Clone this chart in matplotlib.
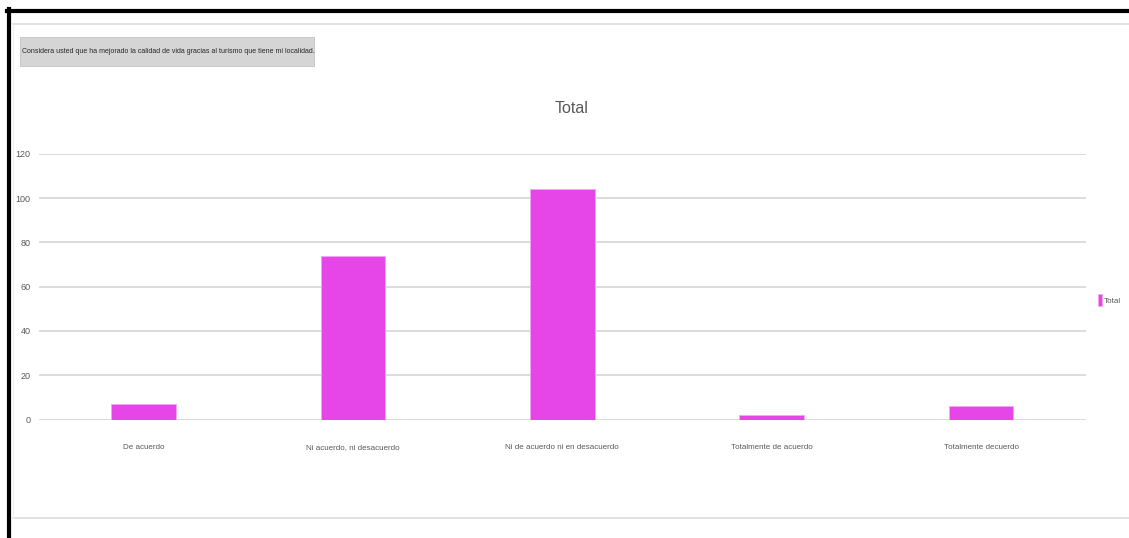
import matplotlib
matplotlib.use("Agg")
import matplotlib.pyplot as plt
from matplotlib.lines import Line2D
from matplotlib.patches import Rectangle

# data
categories = ["De acuerdo", "Ni acuerdo, ni desacuerdo", "Ni de acuerdo ni en desacuerdo",
              "Totalmente de acuerdo", "Totalmente decuerdo"]
totals = [7, 74, 104, 2, 6]
yticks = [0, 20, 40, 60, 80, 100, 120]

W, H = 1129, 538
bar_color = "#E645E8"
grid_color = "#d9d9d9"
txt_color = "#595959"

plt.rcParams["font.family"] = ["Liberation Sans", "DejaVu Sans"]

fig = plt.figure(figsize=(W / 100, H / 100), dpi=100)
fig.patch.set_facecolor("white")

def fx(px):
    return px / W

def fy(py):
    return 1 - py / H

# frame lines of the screenshot
fig.add_artist(Line2D([fx(9), fx(9)], [fy(9), fy(538)], color="black", lw=3.0))
fig.add_artist(Line2D([fx(7), fx(1129)], [fy(11), fy(11)], color="black", lw=3.0))
fig.add_artist(Line2D([fx(13), fx(1129)], [fy(23.5), fy(23.5)], color="#d9d9d9", lw=1.1))
fig.add_artist(Line2D([fx(13), fx(1129)], [fy(518), fy(518)], color="#d9d9d9", lw=1.1))
fig.add_artist(Line2D([fx(13), fx(13)], [fy(23.5), fy(518)], color="#eeeeee", lw=0.8))

# question label on a grey box
fig.add_artist(Rectangle((fx(20), fy(66)), fx(294), 29.5 / H, transform=fig.transFigure,
                         facecolor="#d5d5d5", edgecolor="#c4c4c4", lw=0.6))
fig.text(fx(22.5), fy(51.5), "Considera usted que ha mejorado la calidad de vida gracias al turismo que tiene mi localidad.",
         fontsize=5.0, color="#262626", va="center", ha="left")

ax = fig.add_axes([fx(39), fy(419.5), fx(1085.7 - 39), (419.5 - 154) / H])
x = list(range(len(categories)))
ax.bar(x, totals, width=0.31, color=bar_color, edgecolor="#f3a6f3", linewidth=0.6,
       label="Total", zorder=3)
ax.set_xlim(-0.5, len(categories) - 0.5)
ax.set_ylim(0, 120)
ax.tick_params(axis="both", length=0)
ax.tick_params(axis="y", pad=6)
ax.tick_params(axis="x", pad=21)
ax.set_yticks(yticks)
ax.set_yticklabels([str(v) for v in yticks], fontsize=6.5, color=txt_color)
ax.set_xticks(x)
ax.set_xticklabels(categories, fontsize=5.8, color=txt_color)
for lab in ax.get_xticklabels():
    lab.set_verticalalignment("baseline")
ax.yaxis.grid(True, color=grid_color, lw=1.3, zorder=0)
ax.set_axisbelow(True)
for s in ax.spines.values():
    s.set_visible(False)

fig.text(fx(572), fy(109), "Total", fontsize=11.5, color=txt_color, ha="center", va="center")

ax.legend(loc="center left", bbox_to_anchor=(fx(1098), fy(300)), bbox_transform=fig.transFigure,
          frameon=False, fontsize=5.8, handlelength=0.45, handleheight=1.8,
          handletextpad=0.25, borderpad=0, borderaxespad=0, labelcolor=txt_color)

fig.savefig("out.png", dpi=100, facecolor="white")
